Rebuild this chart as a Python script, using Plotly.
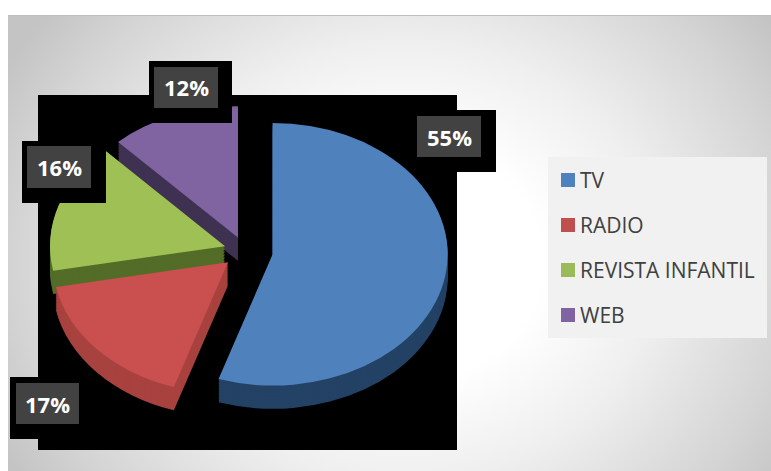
import base64
import plotly.graph_objects as go

W, H = 771, 471

categories = ["TV", "RADIO", "REVISTA INFANTIL", "WEB"]
values = [55, 17, 16, 12]
pulls = [0.16, 0.13, 0.12, 0.11]
top_colors = ["#4f81bd", "#c9504f", "#9fc054", "#8064a2"]
side_colors = ["#234265", "#a8423f", "#536d28", "#3f3151"]
legend_swatches = ["#4f81bd", "#c0504d", "#9bbb59", "#8064a2"]

# Label boxes: black backing (x0, y0, x1, y1), grey plate (x0, y0, x1, y1)
label_boxes = [
    ((417, 110, 496, 172), (417, 116, 481, 157)),
    ((10, 377, 93, 439), (16, 383, 79, 424)),
    ((22, 141, 106, 203), (27, 146, 91, 188)),
    ((149, 61, 232, 123), (154, 67, 218, 108)),
]

R = 175
MAX_PULL = max(pulls)
CX, CY_RAW, CY_FINAL, K = 245, 215, 251, 0.75
DEPTH_PX = 23
half = R * (1 + MAX_PULL)


def px(x):
    return x / W


def py(y):
    return 1 - y / H


def pie(colors, shift=0):
    return go.Pie(
        labels=categories, values=values, pull=pulls, sort=False,
        direction="clockwise", rotation=0, textinfo="none", hoverinfo="skip",
        showlegend=False,
        marker=dict(colors=colors, line=dict(width=0)),
        domain=dict(x=[px(CX - half), px(CX + half)],
                    y=[py(CY_RAW + shift + half), py(CY_RAW + shift - half)]),
    )


fig = go.Figure()
raw_depth = round(DEPTH_PX / K)
for s in range(raw_depth, 0, -2):
    fig.add_trace(pie(side_colors, s))
fig.add_trace(pie(top_colors))

panel_w, panel_h = W - 8, H - 15
svg = f"""<svg xmlns='http://www.w3.org/2000/svg' width='{panel_w}' height='{panel_h}' preserveAspectRatio='none'>
<defs><radialGradient id='g' cx='0' cy='0' r='0.6' gradientUnits='objectBoundingBox'
 gradientTransform='translate(0.52,0.54) scale(1,1.45)'>
<stop offset='0.3' stop-color='#ffffff'/><stop offset='0.55' stop-color='#efefef'/>
<stop offset='0.85' stop-color='#d4d4d4'/><stop offset='1' stop-color='#c4c4c4'/></radialGradient></defs>
<rect width='{panel_w}' height='{panel_h}' fill='url(#g)'/></svg>"""
src = "data:image/svg+xml;base64," + base64.b64encode(svg.encode()).decode()

shapes = [
    dict(type="line", xref="paper", yref="paper", x0=px(8), x1=1, y0=py(15.5), y1=py(15.5),
         line=dict(color="#bfbfbf", width=1), layer="below"),
    dict(type="rect", xref="paper", yref="paper", x0=px(38), x1=px(457), y0=py(450), y1=py(95),
         fillcolor="#000000", line=dict(width=0), layer="below"),
    dict(type="rect", xref="paper", yref="paper", x0=px(548), x1=px(767), y0=py(338), y1=py(157),
         fillcolor="#f1f1f1", line=dict(width=0), layer="below"),
]
annotations = []
for (bk, gr), v in zip(label_boxes, values):
    shapes.append(dict(type="rect", xref="paper", yref="paper", x0=px(bk[0]), x1=px(bk[2]),
                       y0=py(bk[3]), y1=py(bk[1]), fillcolor="#000000", line=dict(width=0), layer="above"))
    shapes.append(dict(type="rect", xref="paper", yref="paper", x0=px(gr[0]), x1=px(gr[2]),
                       y0=py(gr[3]), y1=py(gr[1]), fillcolor="#424242", line=dict(width=0), layer="above"))
    annotations.append(dict(xref="paper", yref="paper", x=px((gr[0] + gr[2]) / 2), y=py((gr[1] + gr[3]) / 2),
                            text=f"{v}%", showarrow=False, xanchor="center", yanchor="middle",
                            font=dict(family="Open Sans", size=22, color="#ffffff", weight="bold")))

for i, (name, col) in enumerate(zip(categories, legend_swatches)):
    yc = 180 + 45 * i
    shapes.append(dict(type="rect", xref="paper", yref="paper", x0=px(561), x1=px(575),
                       y0=py(yc + 7), y1=py(yc - 7), fillcolor=col, line=dict(width=0), layer="above"))
    annotations.append(dict(xref="paper", yref="paper", x=px(578), y=py(yc), text=name, showarrow=False,
                            xanchor="left", yanchor="middle",
                            font=dict(family="Open Sans", size=21, color="#404040")))

fig.update_layout(
    width=W, height=H, margin=dict(l=0, r=0, t=0, b=0), autosize=False,
    paper_bgcolor="#ffffff", showlegend=False,
    images=[dict(source=src, xref="paper", yref="paper", x=px(8), y=py(15), sizex=panel_w / W,
                 sizey=panel_h / H, sizing="stretch", xanchor="left", yanchor="top", layer="below")],
    shapes=shapes, annotations=annotations,
)

post = f"""
document.documentElement.style.margin = '0';
document.body.style.margin = '0';
document.documentElement.style.overflow = 'hidden';
document.body.style.overflow = 'hidden';
var l = document.querySelector('.pielayer');
if (l) l.setAttribute('transform', 'translate(0,{CY_FINAL - K * CY_RAW}) scale(1,{K})');
"""
fig.write_html("out.html", post_script=post, config=dict(displayModeBar=False),
               default_width=f"{W}px", default_height=f"{H}px")
